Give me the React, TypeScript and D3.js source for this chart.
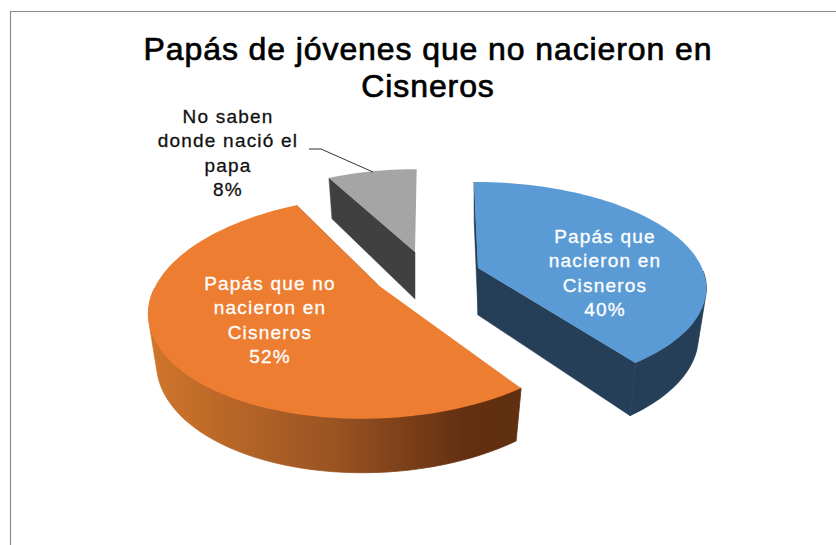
import React from "react";
import * as d3 from "d3";

const titleLines = ["Papás de jóvenes que no nacieron en", "Cisneros"];
const categories = ["Papás que nacieron en Cisneros", "Papás que no nacieron en Cisneros", "No saben donde nació el papa"];
const values = [40, 52, 8];
const labelLines = [
  ["Papás que", "nacieron en", "Cisneros"],
  ["Papás que no", "nacieron en", "Cisneros"],
  ["No saben", "donde nació el", "papa"],
];
const topColors = ["#5b9bd5", "#ed7d31", "#a5a5a5"];
const wallColors = ["#243f57", "url(#orangeWall)", "#404040"];

// Per-slice perspective frame: exploded apex and projected disc parameters.
const frames = [
  { x: 478, y: 268, A: 224, B: 101, k: 0.173, s: -4.7 },
  { x: 378, y: 285, A: 222, B: 107, k: 0.2, s: 13 },
  { x: 415, y: 252, A: 212, B: 98.6, k: 0.19, s: 2 },
];
const labelPos = [
  { x: 605, y: 243, fill: "#fff" },
  { x: 270, y: 290, fill: "#fff" },
  { x: 228, y: 123, fill: "#111" },
];

type F = (typeof frames)[number];
const project = (f: F, t: number, r = 1, bottom = false): [number, number] => {
  const u = Math.sin(t) * r;
  const v = Math.cos(t) * r;
  const w = 1 + f.k * v;
  const dx = (f.A * u + f.s * v) / w;
  const dy = (-f.B * v) / w;
  if (!bottom) return [f.x + dx, f.y + dy];
  return [f.x + dx * 0.965, f.y + dy + 47 - v * 7];
};

const line = d3.line();

export default function App() {
  const arcs = d3.pie<number>().sort(null).startAngle(0).endAngle(2 * Math.PI)(values);

  const slices = arcs.map((a, i) => {
    const f = frames[i];
    const angles = d3.range(0, 81).map((n) => a.startAngle + ((a.endAngle - a.startAngle) * n) / 80);
    const topArc = angles.map((t) => project(f, t));
    const botArc = angles.map((t) => project(f, t, 1, true));
    // The outer wall only shows on the part of the rim facing the viewer.
    const front = angles.flatMap((t) =>
      Math.cos(t) < 0 ? [project(f, t), project(f, t, 1, true)] : []
    );
    const hull = front.length >= 3 ? d3.polygonHull(front) : null;
    const apex = project(f, 0, 0);
    const apexB = project(f, 0, 0, true);
    return {
      i,
      top: line([apex, ...topArc])! + "Z",
      outer: hull ? line(hull)! + "Z" : null,
      wallA: line([apex, topArc[0], botArc[0], apexB])! + "Z",
      wallB: line([apex, topArc[80], botArc[80], apexB])! + "Z",
    };
  });
  const pct = d3.format(".0%");

  return (
    <svg
      width={836}
      height={545}
      style={{ position: "absolute", left: 0, top: 0, background: "#fff" }}
      fontFamily="'Liberation Sans', Arial, sans-serif"
    >
      <defs>
        <linearGradient id="orangeWall" gradientUnits="userSpaceOnUse" x1={148} x2={520} y1={0} y2={0}>
          <stop offset="0" stopColor="#d0762c" />
          <stop offset="0.5" stopColor="#9a5322" />
          <stop offset="0.85" stopColor="#633011" />
          <stop offset="1" stopColor="#5f2f10" />
        </linearGradient>
      </defs>
      <path d="M836,11.5H10.5V545" fill="none" stroke="#8c8c8c" strokeWidth={1.2} />
      {titleLines.map((t, i) => (
        <text key={t} x={428} y={60 + i * 37} textAnchor="middle" fontSize={32} letterSpacing={0.9} stroke="#000" strokeWidth={0.7} fill="#000">
          {t}
        </text>
      ))}
      {slices.map((s) => (
        <g key={categories[s.i]}>
          {s.i !== 1 && <path d={s.wallA} fill={wallColors[s.i]} stroke={wallColors[s.i]} strokeWidth={0.5} />}
          {s.i !== 2 && <path d={s.wallB} fill={wallColors[s.i]} stroke={wallColors[s.i]} strokeWidth={0.5} />}
          {s.outer && <path d={s.outer} fill={wallColors[s.i]} stroke={wallColors[s.i]} strokeWidth={0.8} />}
          <path d={s.top} fill={topColors[s.i]} />
        </g>
      ))}
      <polyline points="309,149 321,149 373,172" fill="none" stroke="#333" strokeWidth={1} />
      {labelPos.map((p, i) => (
        <text key={i} textAnchor="middle" fontSize={19} letterSpacing={1.2} fill={p.fill} stroke={p.fill} strokeWidth={0.3}>
          {[...labelLines[i], pct(values[i] / 100)].map((l, j) => (
            <tspan key={j} x={p.x} y={p.y + j * 24.3}>
              {l}
            </tspan>
          ))}
        </text>
      ))}
    </svg>
  );
}
